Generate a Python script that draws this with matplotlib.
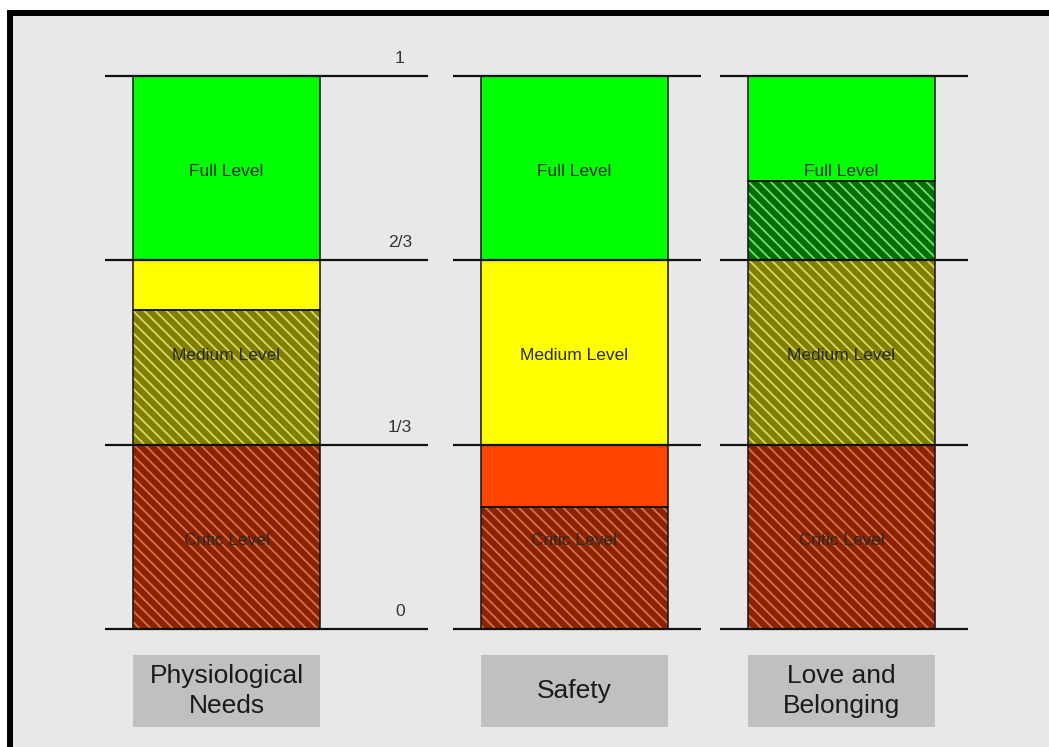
import matplotlib
matplotlib.use("Agg")
import matplotlib.pyplot as plt
from matplotlib.patches import Rectangle

plt.rcParams['font.family'] = ['Liberation Sans', 'DejaVu Sans']
plt.rcParams['hatch.linewidth'] = 1.3

# --- data -------------------------------------------------------------
categories = ["Physiological\nNeeds", "Safety", "Love and\nBelonging"]

# segment boundaries (fraction of full scale) and the fill of each segment
phys_bounds = [0.0, 1/3, 0.577, 2/3, 1.0]
phys_fills = ["critic", "medium", "yellow", "green"]

safety_bounds = [0.0, 0.221, 1/3, 2/3, 1.0]
safety_fills = ["critic", "orange", "yellow", "green"]

love_bounds = [0.0, 1/3, 2/3, 0.810, 1.0]
love_fills = ["critic", "medium", "darkgreen", "green"]

level_names = ["Critic Level", "Medium Level", "Full Level"]
level_centers = [1/6, 1/2, 5/6]

tick_values = [0.0, 1/3, 2/3, 1.0]
tick_labels = ["0", "1/3", "2/3", "1"]

# --- styles -----------------------------------------------------------
fills = {
    "green":     dict(face="#00ff00", hatch=None, hcol=None),
    "yellow":    dict(face="#ffff00", hatch=None, hcol=None),
    "orange":    dict(face="#ff4500", hatch=None, hcol=None),
    "critic":    dict(face="#8b2300", hatch="\\\\\\", hcol="#d9704a"),
    "medium":    dict(face="#807f00", hatch="\\\\\\", hcol="#d8d868"),
    "darkgreen": dict(face="#006e00", hatch="\\\\\\", hcol="#70e070"),
}

col_centers = [226.5, 574.0, 841.5]
bar_width = 187.0
line_left_ext = [28, 28, 28]
line_right_ext = [108, 33, 33]

W, H = 1049, 747
fig = plt.figure(figsize=(W / 100, H / 100), dpi=100)
fig.patch.set_facecolor("white")

# outer frame (open on the right and bottom)
frame = Rectangle((10 / W, -0.1), 1.2, (1 - 13 / H) + 0.1,
                  transform=fig.transFigure, facecolor="#e8e8e8",
                  edgecolor="black", linewidth=4.3, zorder=-1)
fig.patches.append(frame)

ax = fig.add_axes([0, 0, 1, 1])
ax.set_facecolor("none")
ax.set_xlim(0, W)
y_zero_px, unit_px = 629, 553
ax.set_ylim((y_zero_px - H) / unit_px, y_zero_px / unit_px)
ax.axis("off")

columns = [(phys_bounds, phys_fills), (safety_bounds, safety_fills),
           (love_bounds, love_fills)]

for i, (bounds, fl) in enumerate(columns):
    cx = col_centers[i]
    for b0, b1, key in zip(bounds[:-1], bounds[1:], fl):
        st = fills[key]
        if st["hatch"]:
            ax.bar(cx, b1 - b0, bottom=b0, width=bar_width, color=st["face"],
                   hatch=st["hatch"], edgecolor=st["hcol"], linewidth=0,
                   zorder=2)
        else:
            ax.bar(cx, b1 - b0, bottom=b0, width=bar_width, color=st["face"],
                   linewidth=0, zorder=2)
        ax.bar(cx, b1 - b0, bottom=b0, width=bar_width, facecolor="none",
               edgecolor="#111111", linewidth=1.1, zorder=3)

    # reference lines at 0, 1/3, 2/3, 1
    x0 = cx - bar_width / 2 - line_left_ext[i]
    x1 = cx + bar_width / 2 + line_right_ext[i]
    for v in tick_values:
        ax.plot([x0, x1], [v, v], color="#111111", linewidth=1.6, zorder=4,
                solid_capstyle="butt")

    # level names
    for name, yc in zip(level_names, level_centers):
        ax.text(cx, yc - 0.006, name, ha="center", va="center", fontsize=12.5,
                color="#2a2a2a", zorder=5)

    # category box
    ax.bar(cx, 0.130, bottom=-0.177, width=bar_width, color="#c0c0c0",
           linewidth=0, zorder=2)
    ax.text(cx, -0.112, categories[i], ha="center", va="center",
            fontsize=19, color="#1a1a1a", linespacing=1.33, zorder=5)

# scale labels next to the first column
for v, lab in zip(tick_values, tick_labels):
    ax.text(400, v + 0.018, lab, ha="center", va="bottom", fontsize=12.5,
            color="#333333", zorder=5)

fig.savefig("out.png", dpi=100, facecolor=fig.get_facecolor())
